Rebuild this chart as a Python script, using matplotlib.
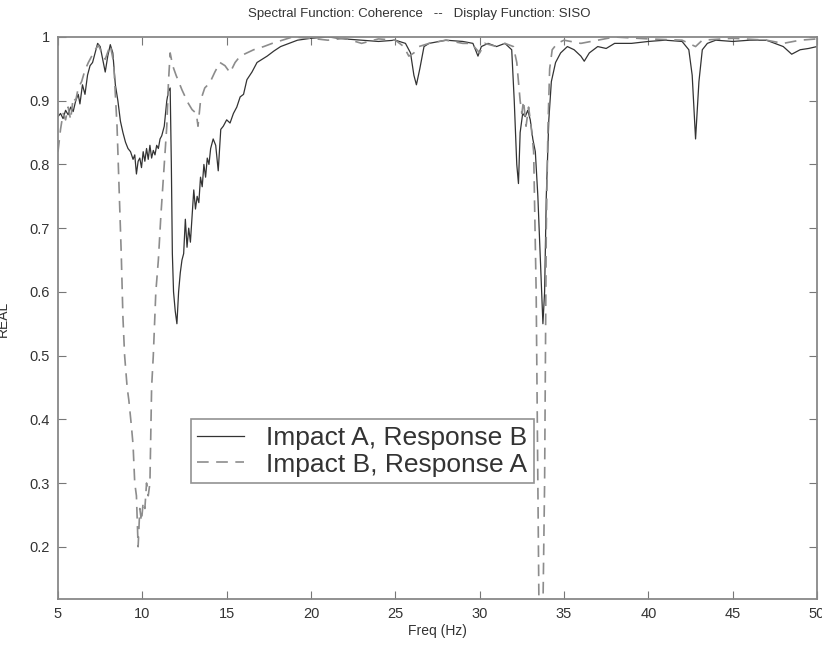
import numpy as np
import matplotlib
matplotlib.use('Agg')
import matplotlib.pyplot as plt

plt.rcParams['font.family'] = ['Liberation Sans', 'DejaVu Sans']

# Impact A, Response B (solid)
freq_ab = [5.0, 5.15, 5.3, 5.45, 5.6, 5.75, 5.9, 6.05, 6.2, 6.3, 6.45, 6.6, 6.75, 6.9,
           7.05, 7.2, 7.35, 7.5, 7.65, 7.8, 7.95, 8.1, 8.25, 8.4, 8.55, 8.7, 8.85, 9.0,
           9.15, 9.3, 9.45, 9.55, 9.65, 9.75, 9.85, 9.95, 10.05, 10.15, 10.25, 10.35,
           10.45, 10.55, 10.65, 10.75, 10.85, 10.95, 11.05, 11.15, 11.3, 11.45, 11.55,
           11.65, 11.72, 11.78, 11.85, 11.95, 12.05, 12.15, 12.25, 12.35, 12.45, 12.55,
           12.65, 12.75, 12.85, 12.95, 13.05, 13.15, 13.25, 13.35, 13.45, 13.55, 13.65,
           13.75, 13.85, 13.95, 14.05, 14.2, 14.35, 14.5, 14.65, 14.8, 15.0, 15.2, 15.4,
           15.6, 15.8, 16.0, 16.2, 16.5, 16.8, 17.1, 17.4, 17.8, 18.2, 18.7, 19.2, 20.0,
           21.0, 22.0, 23.0, 24.0, 25.0, 25.6, 25.9, 26.1, 26.25, 26.45, 26.7, 27.0,
           28.0, 29.0, 29.6, 29.9, 30.1, 30.5, 31.0, 31.5, 31.9, 32.05, 32.2, 32.3,
           32.4, 32.55, 32.7, 32.85, 33.0, 33.15, 33.3, 33.45, 33.6, 33.75, 33.85,
           33.95, 34.1, 34.25, 34.5, 34.8, 35.2, 35.6, 36.0, 36.2, 36.5, 37.0, 37.5,
           38.0, 39.0, 40.0, 41.0, 42.0, 42.4, 42.6, 42.8, 43.0, 43.2, 43.5, 44.0,
           45.0, 46.0, 47.0, 47.5, 48.0, 48.5, 49.0, 49.5, 50.0]
coh_ab = [0.875, 0.88, 0.872, 0.885, 0.878, 0.89, 0.883, 0.9, 0.91, 0.895, 0.925, 0.91,
          0.94, 0.955, 0.96, 0.975, 0.99, 0.985, 0.965, 0.945, 0.97, 0.988, 0.975, 0.925,
          0.9, 0.868, 0.85, 0.835, 0.825, 0.82, 0.808, 0.815, 0.785, 0.805, 0.81, 0.795,
          0.82, 0.805, 0.825, 0.808, 0.83, 0.81, 0.822, 0.815, 0.83, 0.825, 0.84, 0.845,
          0.86, 0.9, 0.915, 0.92, 0.8, 0.66, 0.6, 0.57, 0.55, 0.6, 0.63, 0.65, 0.66,
          0.714, 0.67, 0.7, 0.678, 0.72, 0.76, 0.73, 0.75, 0.74, 0.78, 0.765, 0.8, 0.78,
          0.81, 0.8, 0.825, 0.84, 0.83, 0.79, 0.855, 0.86, 0.87, 0.865, 0.88, 0.89,
          0.906, 0.91, 0.933, 0.945, 0.96, 0.965, 0.97, 0.978, 0.985, 0.99, 0.995,
          0.998, 1.0, 0.997, 0.995, 0.993, 0.995, 0.99, 0.975, 0.94, 0.925, 0.95, 0.985,
          0.99, 0.995, 0.993, 0.99, 0.97, 0.985, 0.99, 0.985, 0.99, 0.98, 0.9, 0.8,
          0.77, 0.85, 0.88, 0.875, 0.885, 0.87, 0.84, 0.82, 0.75, 0.65, 0.55, 0.6,
          0.75, 0.87, 0.93, 0.96, 0.975, 0.985, 0.98, 0.97, 0.962, 0.975, 0.985, 0.982,
          0.99, 0.99, 0.993, 0.995, 0.993, 0.98, 0.94, 0.84, 0.93, 0.98, 0.99, 0.995,
          0.993, 0.995, 0.995, 0.99, 0.985, 0.973, 0.98, 0.982, 0.985]

# Impact B, Response A (dashed)
freq_ba = [5.0, 5.15, 5.3, 5.45, 5.6, 5.75, 5.9, 6.05, 6.2, 6.4, 6.6, 6.8, 7.0, 7.2,
           7.4, 7.6, 7.8, 8.0, 8.1, 8.3, 8.5, 8.6, 8.75, 8.85, 8.95, 9.1, 9.2, 9.35,
           9.45, 9.55, 9.65, 9.75, 9.85, 9.95, 10.05, 10.15, 10.25, 10.35, 10.45, 10.55,
           10.65, 10.8, 10.95, 11.1, 11.25, 11.35, 11.45, 11.55, 11.65, 11.8, 12.0,
           12.35, 12.7, 12.95, 13.2, 13.3, 13.45, 13.7, 14.0, 14.3, 14.6, 14.9, 15.2,
           15.5, 15.8, 16.2, 16.6, 17.2, 17.7, 18.3, 18.9, 20.0, 21.0, 22.0, 23.0, 24.0,
           25.0, 25.5, 25.8, 26.1, 26.4, 27.0, 28.0, 29.0, 29.5, 30.0, 30.3, 31.0, 31.5,
           32.0, 32.2, 32.4, 32.5, 32.6, 32.75, 32.9, 33.05, 33.2, 33.35, 33.45, 33.55,
           33.7, 33.85, 33.95, 34.05, 34.15, 34.3, 34.6, 35.0, 36.0, 37.0, 38.0, 40.0,
           42.0, 42.8, 43.2, 45.0, 47.0, 48.0, 49.0, 50.0]
coh_ba = [0.82, 0.855, 0.88, 0.87, 0.89, 0.87, 0.905, 0.9, 0.92, 0.93, 0.948, 0.96,
          0.97, 0.98, 0.987, 0.975, 0.965, 0.98, 0.987, 0.96, 0.86, 0.78, 0.66, 0.56,
          0.5, 0.45, 0.43, 0.39, 0.36, 0.3, 0.28, 0.2, 0.26, 0.24, 0.27, 0.26, 0.3,
          0.28, 0.3, 0.45, 0.5, 0.6, 0.65, 0.72, 0.78, 0.82, 0.86, 0.93, 0.975, 0.955,
          0.94, 0.917, 0.897, 0.886, 0.88, 0.86, 0.9, 0.92, 0.928, 0.945, 0.96, 0.955,
          0.944, 0.96, 0.97, 0.975, 0.98, 0.985, 0.99, 0.995, 1.0, 0.998, 0.995, 0.998,
          0.99, 0.997, 0.995, 0.985, 0.97, 0.975, 0.985, 0.99, 0.995, 0.99, 0.99, 0.975,
          0.99, 0.985, 0.99, 0.985, 0.96, 0.9, 0.88, 0.9, 0.86, 0.89, 0.86, 0.82, 0.6,
          0.3, 0.0, 0.0, 0.3, 0.7, 0.86, 0.95, 0.98, 0.99, 0.995, 0.99, 0.995, 1.0,
          0.997, 0.995, 0.985, 0.995, 0.998, 0.995, 0.99, 0.995, 0.997]

x_ticks = [5, 10, 15, 20, 25, 30, 35, 40, 45, 50]
y_ticks = [0.2, 0.3, 0.4, 0.5, 0.6, 0.7, 0.8, 0.9, 1.0]
y_tick_labels = ['0.2', '0.3', '0.4', '0.5', '0.6', '0.7', '0.8', '0.9', '1']

fig = plt.figure(figsize=(8.22, 6.5), dpi=100)
# axes box: 5 Hz at x=58 px, 50 Hz at x=817 px, top y=37, bottom y=599
ax = fig.add_axes([58 / 822, 1 - 599 / 650, 759 / 822, 562 / 650])

ax.plot(freq_ab, coh_ab, color='#333333', linewidth=0.9, label='Impact A, Response B')
ax.plot(freq_ba, coh_ba, color='#8c8c8c', linewidth=1.2, linestyle=(0, (7, 4.5)),
        label='Impact B, Response A')

ax.set_xlim(5, 50)
ax.set_ylim(0.118, 1.0)
ax.set_xticks(x_ticks)
ax.set_xticklabels([str(t) for t in x_ticks])
ax.set_yticks(y_ticks)
ax.set_yticklabels(y_tick_labels)
ax.tick_params(direction='in', length=6, top=True, right=True, labelsize=10.5,
               color='#777777', labelcolor='#333333', pad=6)
for sp in ax.spines.values():
    sp.set_color('#888888')
    sp.set_linewidth(1.3)

ax.set_xlabel('Freq (Hz)', fontsize=10, color='#333333', labelpad=2)
# y label sits partly off the left edge, as in the original
fig.text(0.004, 0.51, 'REAL', rotation=90, ha='center', va='center',
         fontsize=10, color='#333333')
fig.text(0.51, 0.978, 'Spectral Function: Coherence   --   Display Function: SISO',
         ha='center', va='center', fontsize=9.5, color='#333333')

leg = ax.legend(loc='lower left', bbox_to_anchor=(0.175, 0.206), fontsize=19,
                frameon=True, fancybox=False, borderaxespad=0, handlelength=1.75,
                handletextpad=0.85, labelspacing=0.1, borderpad=0.25)
leg.get_frame().set_edgecolor('#777777')
leg.get_frame().set_linewidth(1.2)
for t in leg.get_texts():
    t.set_color('#333333')

fig.savefig('out.png', dpi=100)
